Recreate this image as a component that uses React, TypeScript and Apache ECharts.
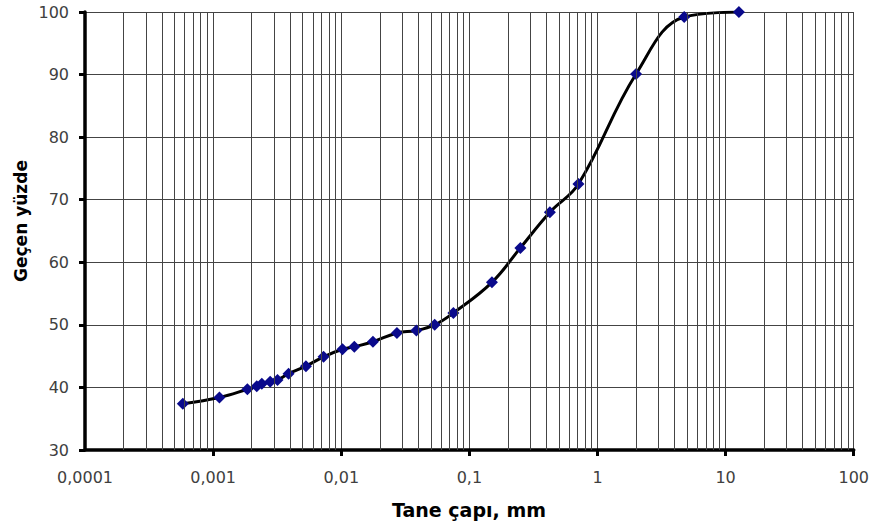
import React, { useEffect, useRef } from "react";
import * as echarts from "echarts";

// Grain diameter (mm) and percent passing
const diameters = [
  0.00058, 0.00112, 0.00185, 0.00219, 0.0024, 0.00279, 0.00318, 0.00388, 0.0053,
  0.00728, 0.01023, 0.01265, 0.01767, 0.0272, 0.0386, 0.0536, 0.075, 0.15, 0.25,
  0.425, 0.71, 2.0, 4.75, 12.7,
];
const passing = [
  37.4, 38.4, 39.7, 40.2, 40.6, 40.9, 41.2, 42.2, 43.4, 44.9, 46.1, 46.5, 47.3,
  48.7, 49.1, 50.0, 51.9, 56.8, 62.3, 68.0, 72.5, 90.1, 99.2, 100,
];

const xMin = 0.0001;
const xMax = 100;
const decadeExponents = [-4, -3, -2, -1, 0, 1];
const minorMultipliers = [2, 3, 4, 5, 6, 7, 8, 9];
const minorGridValues: number[] = [];
decadeExponents.forEach((e) =>
  minorMultipliers.forEach((k) => minorGridValues.push(+(k * Math.pow(10, e)).toPrecision(6)))
);

const xTitle = "Tane çapı, mm";
const yTitle = "Geçen yüzde";

const fmt = (v: number) => String(+v.toPrecision(6)).replace(".", ",");

export default function App() {
  const ref = useRef<HTMLDivElement>(null);
  useEffect(() => {
    if (!ref.current) return;
    const chart = echarts.init(ref.current, null, { renderer: "svg" });
    const points = diameters.map((d, i) => [d, passing[i]]);
    const gridColor = "#444444";
    chart.setOption({
      animation: false,
      backgroundColor: "#ffffff",
      grid: { left: 85, right: 17, top: 12, bottom: 80, containLabel: false },
      xAxis: {
        type: "log",
        logBase: 10,
        min: xMin,
        max: xMax,
        axisLine: { show: true, onZero: false, lineStyle: { color: "#000", width: 3.5 } },
        axisTick: { show: true, inside: false, length: 6, lineStyle: { color: "#000", width: 3 } },
        axisLabel: {
          margin: 19,
          color: "#404040",
          fontFamily: "DejaVu Sans",
          fontSize: 16,
          showMinLabel: false,
          hideOverlap: false,
          formatter: fmt,
        },
        splitLine: { show: true, lineStyle: { color: gridColor, width: 1 } },
      },
      yAxis: {
        type: "value",
        min: 30,
        max: 100,
        interval: 10,
        axisLine: { show: true, onZero: false, lineStyle: { color: "#000", width: 3.5 } },
        axisTick: { show: true, inside: false, length: 6, lineStyle: { color: "#000", width: 3 } },
        axisLabel: {
          margin: 16,
          color: "#404040",
          fontFamily: "DejaVu Sans",
          fontSize: 16,
        },
        splitLine: { show: true, lineStyle: { color: gridColor, width: 1 } },
      },
      graphic: [
        {
          type: "text",
          x: 85,
          y: 477,
          style: {
            text: fmt(xMin),
            fill: "#404040",
            font: "16px 'DejaVu Sans'",
            textAlign: "center",
            textVerticalAlign: "middle",
          },
        },
        {
          type: "text",
          x: 469,
          y: 510,
          style: {
            text: xTitle,
            fill: "#000",
            font: "bold 19px 'DejaVu Sans'",
            textAlign: "center",
            textVerticalAlign: "middle",
          },
        },
        {
          type: "text",
          x: 21,
          y: 221,
          rotation: Math.PI / 2,
          style: {
            text: yTitle,
            fill: "#000",
            font: "bold 17px 'DejaVu Sans'",
            textAlign: "center",
            textVerticalAlign: "middle",
          },
        },
      ],
      series: [
        {
          type: "line",
          data: points,
          z: 1,
          showSymbol: false,
          symbol: "none",
          lineStyle: { opacity: 0 },
          silent: true,
          markLine: {
            silent: true,
            precision: 8,
            symbol: ["none", "none"],
            label: { show: false },
            lineStyle: { type: "solid", color: gridColor, width: 1 },
            data: minorGridValues.map((v) => ({ xAxis: v })),
          },
        },
        {
          type: "line",
          data: points,
          z: 3,
          smooth: 0.4,
          symbol: "diamond",
          symbolSize: 12,
          itemStyle: { color: "#0a0a8c" },
          lineStyle: { color: "#000", width: 3 },
        },
      ],
    });
    return () => chart.dispose();
  }, []);
  return (
    <div
      ref={ref}
      style={{ position: "fixed", left: 0, top: 0, width: 872, height: 530, background: "#fff" }}
    />
  );
}
